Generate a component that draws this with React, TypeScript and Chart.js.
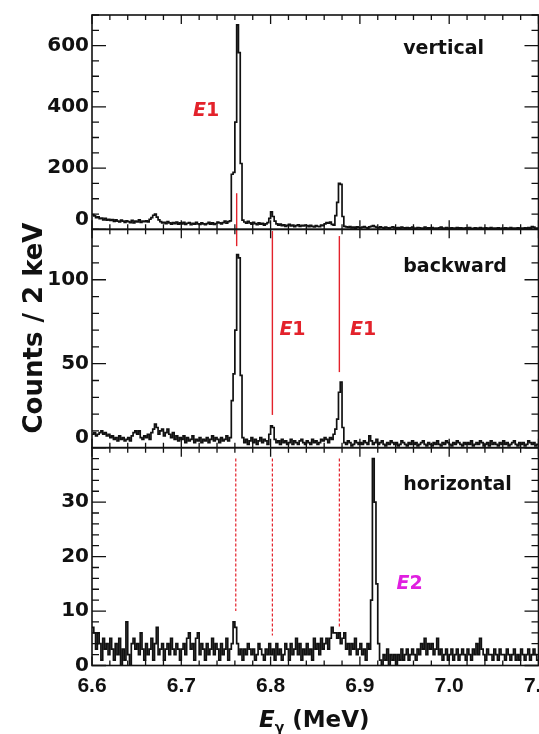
import React, { useEffect, useRef } from "react";
import { Chart, registerables } from "chart.js";

Chart.register(...registerables);

// ---------- data ----------
const BIN_START = 6.6; // MeV
const BIN_WIDTH = 0.002; // MeV (2 keV)
const X_MIN = 6.6;
const X_MAX = 7.1;
const X_TICK_LABELS = [6.6, 6.7, 6.8, 6.9, 7.0, 7.1];

const verticalCounts = [
  48, 44, 38, 41, 35, 37, 31, 36, 30, 33,
  29, 32, 26, 31, 27, 24, 30, 27, 23, 28,
  25, 22, 29, 21, 27, 24, 31, 23, 27, 25,
  28, 24, 33, 38, 46, 50, 40, 31, 25, 21,
  23, 19, 25, 21, 17, 22, 19, 24, 17, 21,
  18, 23, 16, 20, 22, 15, 20, 17, 23, 18,
  16, 21, 18, 15, 19, 23, 17, 21, 16, 19,
  24, 21, 18, 22, 27, 20, 25, 28, 180, 186,
  350, 668, 577, 215, 30, 24, 20, 26, 21, 17,
  23, 19, 15, 21, 17, 20, 14, 18, 22, 36,
  57, 42, 27, 18, 14, 17, 12, 15, 10, 13,
  16, 11, 14, 9, 12, 15, 10, 13, 11, 14,
  12, 9, 13, 10, 8, 12, 10, 9, 14, 12,
  18, 22, 20, 24, 16, 14, 45, 88, 150, 147,
  42, 10, 8, 6, 9, 5, 7, 4, 8, 6,
  5, 7, 9, 6, 4, 8, 10, 12, 9, 6,
  5, 8, 6, 4, 7, 5, 3, 6, 8, 5,
  4, 6, 3, 7, 5, 4, 6, 2, 5, 7,
  4, 3, 6, 5, 2, 4, 7, 3, 5, 4,
  6, 3, 4, 2, 5, 7, 4, 3, 6, 4,
  3, 5, 2, 4, 6, 3, 5, 4, 2, 5,
  4, 6, 3, 2, 5, 4, 3, 6, 4, 2,
  5, 3, 4, 6, 2, 4, 3, 5, 2, 4,
  3, 5, 4, 2, 6, 3, 4, 2, 5, 3,
  4, 2, 5, 3, 6, 4, 9, 7, 3, 4,
];

const backwardCounts = [
  8, 9, 7, 8, 9, 10, 8, 9, 7, 8,
  6, 7, 5, 6, 4, 7, 5, 6, 4, 5,
  6, 4, 7, 9, 10, 8, 10, 6, 5, 7,
  6, 8, 5, 9, 11, 14, 12, 8, 10, 11,
  7, 9, 11, 8, 6, 9, 5, 7, 4, 6,
  5, 7, 3, 6, 4, 5, 7, 3, 5, 4,
  6, 3, 5, 4, 6, 3, 5, 7, 4, 6,
  5, 3, 6, 4, 5, 7, 4, 6, 28, 44,
  70, 115, 113, 43, 6, 3, 5, 2, 4, 6,
  3, 5, 2, 4, 6, 3, 5, 4, 2, 8,
  13, 12, 5, 3, 4, 2, 5, 3, 4, 2,
  3, 5, 2, 4, 3, 2, 4, 5, 3, 2,
  4, 3, 2, 5, 3, 4, 2, 3, 5, 4,
  6, 5, 3, 6, 5, 8, 11, 17, 33, 39,
  12, 3, 2, 4, 3, 1, 2, 4, 3, 2,
  3, 2, 4, 3, 2, 7, 4, 2, 3, 5,
  2, 3, 4, 2, 1, 3, 2, 4, 3, 2,
  3, 1, 2, 4, 3, 2, 1, 3, 2, 4,
  2, 3, 1, 2, 3, 4, 2, 1, 3, 2,
  1, 3, 2, 4, 2, 1, 3, 2, 4, 3,
  2, 1, 3, 2, 4, 3, 2, 1, 3, 2,
  3, 2, 4, 1, 2, 3, 2, 4, 3, 1,
  2, 3, 1, 4, 2, 3, 2, 1, 3, 2,
  4, 2, 3, 1, 2, 3, 4, 2, 1, 3,
  2, 3, 1, 2, 4, 3, 2, 3, 1, 2,
];

const horizontalCounts = [
  7, 6, 3, 6, 4, 1, 5, 3, 4, 2,
  5, 3, 1, 4, 2, 5, 0, 3, 1, 8,
  2, 0, 4, 5, 3, 4, 2, 6, 3, 1,
  4, 2, 3, 5, 1, 4, 7, 2, 3, 4,
  1, 3, 4, 2, 5, 3, 2, 4, 3, 1,
  3, 4, 2, 5, 6, 3, 4, 1, 5, 6,
  2, 4, 3, 1, 4, 2, 3, 5, 2, 4,
  3, 1, 4, 2, 3, 5, 1, 3, 4, 8,
  7, 4, 2, 3, 1, 3, 2, 4, 3, 2,
  3, 1, 2, 4, 3, 2, 1, 3, 2, 4,
  2, 3, 1, 4, 2, 3, 1, 2, 4, 3,
  1, 4, 2, 3, 5, 2, 4, 1, 3, 2,
  4, 2, 3, 1, 5, 3, 4, 2, 5, 3,
  4, 5, 3, 5, 7, 6, 6, 5, 6, 4,
  5, 6, 3, 4, 2, 4, 3, 5, 2, 3,
  4, 2, 3, 1, 4, 3, 12, 38, 30, 15,
  4, 1, 0, 2, 1, 3, 0, 2, 1, 2,
  0, 2, 1, 3, 1, 2, 3, 1, 2, 3,
  2, 1, 3, 2, 4, 3, 5, 2, 4, 3,
  4, 2, 3, 5, 2, 3, 1, 2, 3, 1,
  2, 3, 1, 2, 3, 1, 2, 3, 2, 1,
  3, 2, 1, 3, 2, 4, 2, 5, 3, 2,
  1, 3, 2, 2, 1, 3, 2, 1, 3, 2,
  2, 1, 3, 2, 1, 2, 3, 1, 2, 1,
  3, 2, 1, 2, 3, 1, 2, 3, 2, 1,
];

const panelNames = ["vertical", "backward", "horizontal"];
const panelAxisIds = ["yV", "yB", "yH"];
const panelMax = [700, 130, 40];
const panelMajorTicks = [
  [0, 200, 400, 600],
  [0, 50, 100],
  [0, 10, 20, 30],
];
const panelMajorStep = [200, 50, 10];
const panelMinorStep = [50, 10, 2];
const yTitle = "Counts / 2 keV";

// solid red markers: [energy, axis from, value from, axis to, value to]
const solidMarkers: [number, string, number, string, number][] = [
  [6.762, "yV", 118, "yB", 120],
  [6.802, "yB", 129, "yB", 19.5],
  [6.877, "yB", 126, "yB", 45],
];
// dashed red markers in horizontal panel: [energy, top value, bottom value]
const dashedMarkers: [number, number, number][] = [
  [6.761, 38, 10],
  [6.802, 38, 5.5],
  [6.877, 38, 6.8],
];
// multipolarity labels: [letter, order, axis, energy (centre), value (centre)]
const multipolarityLabels: [string, string, string, number, number][] = [
  ["E", "1", "yV", 6.7277, 387],
  ["E", "1", "yB", 6.8245, 70],
  ["E", "1", "yB", 6.9035, 70],
  ["E", "2", "yH", 6.9556, 15],
];
const panelLabelEnergy = 6.9485;

// ---------- styling ----------
const INK = "#111111";
const RED = "#e3222b";
const MAGENTA = "#e01fe0";
const DEJAVU = '"DejaVu Sans", sans-serif';
const ARIALISH = '"Liberation Sans", Arial, sans-serif';

function histPoints(counts: number[]) {
  const pts: { x: number; y: number }[] = [];
  counts.forEach((c, i) => {
    const lo = BIN_START + i * BIN_WIDTH;
    pts.push({ x: lo, y: c });
    pts.push({ x: lo + BIN_WIDTH, y: c });
  });
  return pts;
}

const overlayPlugin = {
  id: "overlay",
  afterDatasetsDraw(chart: any) {
    const { ctx, chartArea, scales } = chart;
    const xs = scales.x;
    const L = chartArea.left;
    const R = chartArea.right;
    ctx.save();

    // solid red markers
    ctx.strokeStyle = RED;
    ctx.lineWidth = 1.4;
    ctx.setLineDash([]);
    for (const [e, a1, v1, a2, v2] of solidMarkers) {
      const px = xs.getPixelForValue(e);
      ctx.beginPath();
      ctx.moveTo(px, scales[a1].getPixelForValue(v1));
      ctx.lineTo(px, scales[a2].getPixelForValue(v2));
      ctx.stroke();
    }
    // dashed red markers
    ctx.lineWidth = 1.2;
    ctx.setLineDash([3, 2]);
    for (const [e, v1, v2] of dashedMarkers) {
      const px = xs.getPixelForValue(e);
      ctx.beginPath();
      ctx.moveTo(px, scales.yH.getPixelForValue(v1));
      ctx.lineTo(px, scales.yH.getPixelForValue(v2));
      ctx.stroke();
    }
    ctx.setLineDash([]);

    // frames and inward ticks
    ctx.strokeStyle = INK;
    panelAxisIds.forEach((id, p) => {
      const s = scales[id];
      const T = s.top;
      const B = s.bottom;
      ctx.lineWidth = 1.6;
      ctx.strokeRect(L, T, R - L, B - T);
      ctx.lineWidth = 1.3;
      ctx.beginPath();
      const n = Math.round(panelMax[p] / panelMinorStep[p]);
      for (let k = 0; k <= n; k++) {
        const v = k * panelMinorStep[p];
        const py = s.getPixelForValue(v);
        const major = Math.abs(v / panelMajorStep[p] - Math.round(v / panelMajorStep[p])) < 1e-6;
        const len = major ? 14 : 7;
        ctx.moveTo(L, py);
        ctx.lineTo(L + len, py);
        ctx.moveTo(R, py);
        ctx.lineTo(R - len, py);
      }
      const nx = Math.round((X_MAX - X_MIN) / 0.02);
      for (let k = 0; k <= nx; k++) {
        const px = xs.getPixelForValue(X_MIN + k * 0.02);
        const len = k % 5 === 0 ? 9 : 5;
        ctx.moveTo(px, B);
        ctx.lineTo(px, B - len);
        ctx.moveTo(px, T);
        ctx.lineTo(px, T + len);
      }
      ctx.stroke();
    });

    // shifted "0" labels of upper panels
    ctx.fillStyle = INK;
    ctx.font = `bold 20px ${DEJAVU}`;
    ctx.textAlign = "right";
    ctx.textBaseline = "middle";
    ["yV", "yB"].forEach((id) => {
      ctx.fillText("0", L - 3, scales[id].getPixelForValue(0) - 9.5);
    });

    // panel labels
    ctx.font = `bold 19px ${DEJAVU}`;
    ctx.textAlign = "left";
    ctx.textBaseline = "alphabetic";
    const offs = [39, 43, 42];
    panelAxisIds.forEach((id, p) => {
      ctx.fillText(panelNames[p], xs.getPixelForValue(panelLabelEnergy), scales[id].top + offs[p]);
    });

    // multipolarity labels
    ctx.textBaseline = "middle";
    for (const [a, b, id, e, v] of multipolarityLabels) {
      ctx.fillStyle = b === "2" ? MAGENTA : RED;
      ctx.font = `italic bold 19px ${DEJAVU}`;
      const wa = ctx.measureText(a).width;
      ctx.font = `bold 19px ${DEJAVU}`;
      const wb = ctx.measureText(b).width;
      const x0 = xs.getPixelForValue(e) - (wa + wb) / 2;
      const y0 = scales[id].getPixelForValue(v);
      ctx.font = `italic bold 19px ${DEJAVU}`;
      ctx.fillText(a, x0, y0);
      ctx.font = `bold 19px ${DEJAVU}`;
      ctx.fillText(b, x0 + wa, y0);
    }

    // y-axis title (shared by the three panels)
    ctx.fillStyle = INK;
    ctx.save();
    ctx.translate(41.5, 328);
    ctx.rotate(-Math.PI / 2);
    ctx.font = `bold 26px ${DEJAVU}`;
    ctx.textAlign = "center";
    ctx.textBaseline = "alphabetic";
    ctx.fillText(yTitle, 0, 0);
    ctx.restore();

    // x-axis title: E_gamma (MeV)
    ctx.textAlign = "left";
    ctx.textBaseline = "alphabetic";
    ctx.font = `italic bold 23px ${DEJAVU}`;
    const wE = ctx.measureText("E").width;
    ctx.font = `bold 14px ${DEJAVU}`;
    const wG = ctx.measureText("γ").width;
    ctx.font = `bold 23px ${DEJAVU}`;
    const wR = ctx.measureText(" (MeV)").width;
    const cx = (L + R) / 2 - 1;
    const base = 727;
    let x0 = cx - (wE + wG + wR) / 2;
    ctx.font = `italic bold 23px ${DEJAVU}`;
    ctx.fillText("E", x0, base);
    x0 += wE;
    ctx.font = `bold 14px ${DEJAVU}`;
    ctx.fillText("γ", x0, base + 5);
    x0 += wG;
    ctx.font = `bold 23px ${DEJAVU}`;
    ctx.fillText(" (MeV)", x0, base);

    ctx.restore();
  },
};

function yAxis(p: number, weight: number) {
  return {
    type: "linear",
    position: "left",
    stack: "panels",
    stackWeight: weight,
    min: 0,
    max: panelMax[p],
    afterFit: (s: any) => {
      s.width = 92;
    },
    afterBuildTicks: (s: any) => {
      s.ticks = panelMajorTicks[p].map((v) => ({ value: v }));
    },
    grid: { display: false, drawTicks: false },
    border: { display: false },
    ticks: {
      autoSkip: false,
      padding: 3,
      color: INK,
      font: { family: DEJAVU, size: 20, weight: "bold" },
      callback: (v: number) => (p < 2 && v === 0 ? "" : String(v)),
    },
  };
}

export default function App() {
  const ref = useRef<HTMLCanvasElement>(null);
  useEffect(() => {
    const datasets = [verticalCounts, backwardCounts, horizontalCounts].map((c, p) => ({
      label: panelNames[p],
      data: histPoints(c),
      yAxisID: panelAxisIds[p],
      borderColor: INK,
      borderWidth: 1.7,
      pointRadius: 0,
      tension: 0,
      fill: false,
    }));
    const chart = new Chart(ref.current as HTMLCanvasElement, {
      type: "line",
      data: { datasets },
      options: {
        animation: false,
        responsive: false,
        maintainAspectRatio: false,
        layout: { padding: { top: 10, left: 0, right: 41.5, bottom: 0 } },
        plugins: { legend: { display: false }, tooltip: { enabled: false } },
        scales: {
          x: {
            type: "linear",
            position: "bottom",
            min: X_MIN,
            max: X_MAX,
            afterFit: (s: any) => {
              s.height = 68.5;
            },
            afterBuildTicks: (s: any) => {
              s.ticks = X_TICK_LABELS.map((v) => ({ value: v }));
            },
            grid: { display: false, drawTicks: false },
            border: { display: false },
            ticks: {
              autoSkip: false,
              maxRotation: 0,
              padding: 8,
              color: INK,
              font: { family: ARIALISH, size: 21, weight: "bold" },
              callback: (v: number) => v.toFixed(1),
            },
          },
          // stacked panels are laid out bottom-up in definition order
          yH: yAxis(2, 219.5),
          yB: yAxis(1, 220),
          yV: yAxis(0, 216),
        },
      } as any,
      plugins: [overlayPlugin],
    });
    return () => chart.destroy();
  }, []);
  return (
    <div
      style={{
        position: "fixed",
        left: 0,
        top: 0,
        width: 539,
        height: 734,
        overflow: "hidden",
        background: "#fff",
      }}
    >
      <canvas ref={ref} width={580} height={734} style={{ display: "block", width: 580, height: 734 }} />
    </div>
  );
}
